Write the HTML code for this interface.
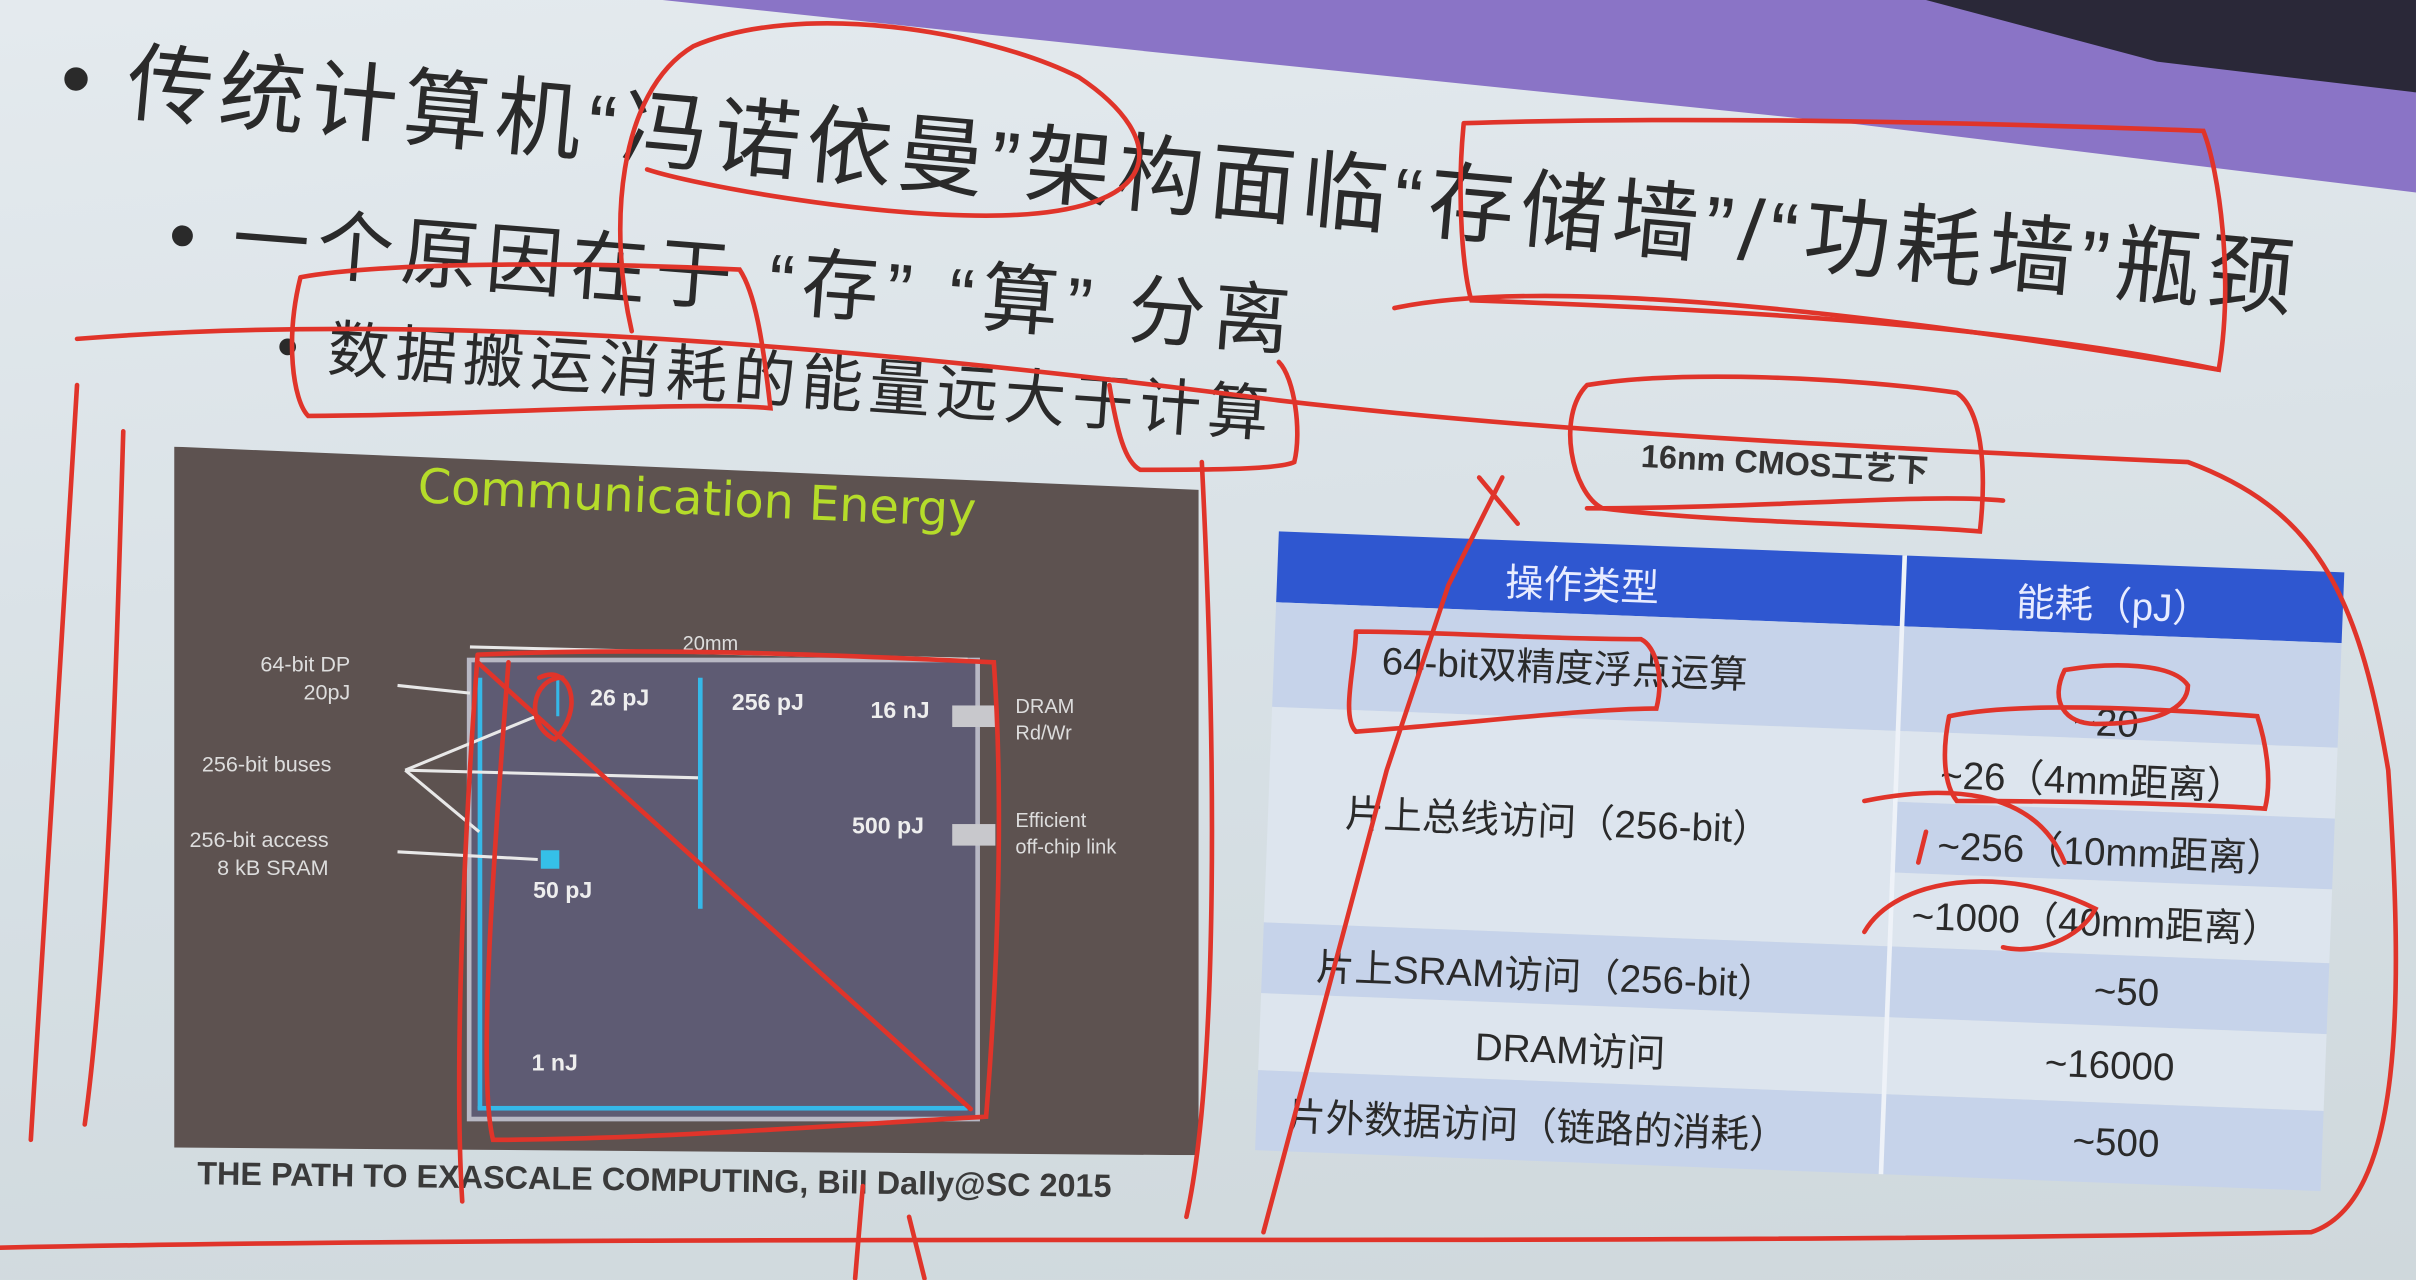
<!DOCTYPE html>
<html><head><meta charset="utf-8"><style>
html,body{margin:0;padding:0;width:2416px;height:1280px;overflow:hidden;background:#d9e1e6}
#w{position:absolute;left:0;top:0;width:1568px;height:831px;transform:scale(1.5408,1.5403);transform-origin:0 0;
background:linear-gradient(175deg,#e4eaee 0%,#d6dfe4 60%,#cfd8dc 100%);overflow:hidden;font-family:"Liberation Sans","Noto Sans CJK SC",sans-serif}
.t{position:absolute;white-space:nowrap;color:#222;font-family:"Liberation Sans","Noto Sans CJK SC",sans-serif}
.s{position:absolute;white-space:nowrap}
</style></head><body><div id="w">
<svg style="position:absolute;left:0;top:0" width="1568" height="831">
<polygon points="430,0 1568,0 1568,125 1200,80 760,35" fill="#8a74c6"/>
<polygon points="1250,0 1568,0 1568,60 1400,40" fill="#2a2838"/>
</svg>
<div class="t" style="left:40px;top:5px;font-size:56px;letter-spacing:4px;transform:rotate(5.2deg);transform-origin:0 50%;color:#2a2a2a">• 传统计算机“冯诺依曼”架构面临“存储墙”/“功耗墙”瓶颈</div>
<div class="t" style="left:110px;top:112px;font-size:50px;letter-spacing:5px;transform:rotate(4.5deg);transform-origin:0 50%;color:#2a2a2a">• 一个原因在于 “存” “算” 分离</div>
<div class="t" style="left:180px;top:192px;font-size:40px;letter-spacing:4px;transform:rotate(4deg);transform-origin:0 50%;color:#2a2a2a">• 数据搬运消耗的能量远大于计算</div>

<div style="position:absolute;left:113px;top:290px;width:665px;height:460px;background:#5d5250;clip-path:polygon(0 0,100% 28px,100% 460px,0 455px)">
 <div class="s" style="left:158px;top:16px;font-size:31px;color:#b5dc2a;font-family:'DejaVu Sans',sans-serif;transform:rotate(2.5deg)">Communication Energy</div>
 <div style="position:absolute;left:190px;top:137px;width:327px;height:295px;background:#5e5b73;border:3px solid #b8b8c4"></div>
 <div style="position:absolute;left:197px;top:150px;width:3px;height:280px;background:#35b8e8"></div>
 <div style="position:absolute;left:197px;top:428px;width:318px;height:3px;background:#35b8e8"></div>
 <div style="position:absolute;left:340px;top:150px;width:3px;height:150px;background:#35b8e8"></div>
 <div style="position:absolute;left:248px;top:150px;width:2px;height:25px;background:#35b8e8"></div>
 <div style="position:absolute;left:238px;top:262px;width:12px;height:12px;background:#35c0e8"></div>
 <div style="position:absolute;left:505px;top:168px;width:28px;height:14px;background:#c8c8cc"></div>
 <div style="position:absolute;left:505px;top:245px;width:28px;height:14px;background:#c8c8cc"></div>
 <svg style="position:absolute;left:0;top:0" width="665" height="460"><g stroke="#e8e8e8" stroke-width="2" fill="none">
  <line x1="145" y1="155" x2="192" y2="160"/><line x1="150" y1="210" x2="235" y2="175"/><line x1="150" y1="210" x2="340" y2="215"/><line x1="150" y1="210" x2="198" y2="250"/><line x1="145" y1="263" x2="236" y2="268"/><line x1="192" y1="130" x2="515" y2="138"/></g></svg>
 <div class="s" style="left:56px;top:132px;font-size:14px;color:#ddd;text-align:right;line-height:18px">64-bit DP<br>&nbsp;&nbsp;&nbsp;&nbsp;&nbsp;&nbsp;20pJ</div>
 <div class="s" style="left:18px;top:198px;font-size:14px;color:#ddd">256-bit buses</div>
 <div class="s" style="left:10px;top:246px;font-size:14px;color:#ddd;line-height:18px;text-align:right">256-bit access<br>8 kB SRAM</div>
 <div class="s" style="left:270px;top:155px;font-size:15px;color:#eee;font-weight:bold">26 pJ</div>
 <div class="s" style="left:362px;top:158px;font-size:15px;color:#eee;font-weight:bold">256 pJ</div>
 <div class="s" style="left:452px;top:163px;font-size:15px;color:#eee;font-weight:bold">16 nJ</div>
 <div class="s" style="left:440px;top:238px;font-size:15px;color:#eee;font-weight:bold">500 pJ</div>
 <div class="s" style="left:233px;top:280px;font-size:15px;color:#eee;font-weight:bold">50 pJ</div>
 <div class="s" style="left:232px;top:392px;font-size:15px;color:#eee;font-weight:bold">1 nJ</div>
 <div class="s" style="left:330px;top:120px;font-size:13px;color:#ddd">20mm</div>
 <div class="s" style="left:546px;top:160px;font-size:13px;color:#ddd;line-height:17px">DRAM<br>Rd/Wr</div>
 <div class="s" style="left:546px;top:234px;font-size:13px;color:#ddd;line-height:17px">Efficient<br>off-chip link</div>
</div>
<div class="t" style="left:128px;top:755px;font-size:21px;font-weight:bold;color:#3a3a3a;transform:rotate(0.8deg)">THE PATH TO EXASCALE COMPUTING, Bill Dally@SC 2015</div>

<div class="t" style="left:1065px;top:285px;font-size:21px;font-weight:bold;color:#333;transform:rotate(3deg)">16nm CMOS工艺下</div>

<div style="position:absolute;left:830px;top:345px;width:692px;height:415px;transform:rotate(2.2deg);transform-origin:0 0;font-size:25px;color:#2a2a2a">
 <div style="position:absolute;left:0;top:0;width:692px;height:46px;background:#2f57d0"></div>
 <div class="s" style="left:148px;top:8px;color:#e8ecff">操作类型</div>
 <div class="s" style="left:480px;top:8px;color:#e8ecff">能耗（pJ）</div>
 <div style="position:absolute;left:0;top:46px;width:692px;height:68px;background:#c6d3ea"></div>
 <div style="position:absolute;left:0;top:114px;width:405px;height:140px;background:#dde5ee"></div>
 <div style="position:absolute;left:405px;top:114px;width:287px;height:46px;background:#dde5ee"></div>
 <div style="position:absolute;left:405px;top:160px;width:287px;height:46px;background:#c6d3ea"></div>
 <div style="position:absolute;left:405px;top:206px;width:287px;height:48px;background:#dde5ee"></div>
 <div style="position:absolute;left:0;top:254px;width:692px;height:46px;background:#c6d3ea"></div>
 <div style="position:absolute;left:0;top:300px;width:692px;height:50px;background:#dde5ee"></div>
 <div style="position:absolute;left:0;top:350px;width:692px;height:52px;background:#c6d3ea"></div>
 <div style="position:absolute;left:405px;top:0;width:3px;height:402px;background:#eef2f8"></div>
 <div class="s" style="left:70px;top:62px">64-bit双精度浮点运算</div>
 <div class="s" style="left:520px;top:90px">~20</div>
 <div class="s" style="left:50px;top:162px">片上总线访问（256-bit）</div>
 <div class="s" style="left:435px;top:122px">~26（4mm距离）</div>
 <div class="s" style="left:435px;top:168px">~256（10mm距离）</div>
 <div class="s" style="left:420px;top:214px">~1000（40mm距离）</div>
 <div class="s" style="left:35px;top:262px">片上SRAM访问（256-bit）</div>
 <div class="s" style="left:540px;top:264px">~50</div>
 <div class="s" style="left:140px;top:310px">DRAM访问</div>
 <div class="s" style="left:510px;top:312px">~16000</div>
 <div class="s" style="left:20px;top:360px">片外数据访问（链路的消耗）</div>
 <div class="s" style="left:530px;top:362px">~500</div>
</div>

<svg style="position:absolute;left:0;top:0" width="1568" height="831"><g stroke="#e0342a" stroke-width="3" fill="none" stroke-linecap="round">
<path d="M410,215 C395,150 400,60 450,30 C520,0 640,20 700,50 C760,90 760,140 640,140 C560,140 450,120 420,110"/>
<path d="M950,80 C945,130 950,180 955,195 C1100,200 1300,210 1440,240 C1450,180 1440,110 1430,85 C1300,80 1100,75 950,80"/>
<path d="M905,200 C1000,180 1200,200 1440,240"/>
<path d="M195,180 C185,220 190,260 200,270 C300,270 450,260 500,265 C495,220 490,190 480,175 C380,170 250,170 195,180"/>
<path d="M50,220 C300,200 600,230 830,260 C1000,280 1200,290 1420,300 C1500,330 1530,380 1550,500 C1560,650 1560,780 1500,800 C1000,810 500,800 0,810"/>
<path d="M50,250 C40,400 30,600 20,740"/>
<path d="M80,280 C75,450 70,620 55,730"/>
<path d="M1030,250 C1010,270 1020,320 1040,330 C1120,340 1230,340 1285,345 C1290,300 1285,265 1270,255 C1200,245 1090,240 1030,250"/>
<path d="M1030,330 C1150,330 1250,320 1300,325"/>
<path d="M310,425 C300,560 295,700 300,780 M330,430 C320,560 310,700 320,740 C420,740 550,730 640,725 C650,600 650,500 645,430 C540,425 420,420 310,425"/>
<path d="M310,430 L630,720 M350,440 C370,430 380,460 360,480 C340,470 345,440 365,440"/>
<path d="M975,310 L940,380 L900,500 L860,650 L820,800 M960,310 L985,340"/>
<path d="M880,410 C880,430 870,465 880,475 C950,470 1030,460 1075,460 C1080,440 1075,420 1065,415 C1000,415 930,410 880,410"/>
<path d="M1340,435 C1330,455 1340,470 1360,470 C1400,470 1420,460 1420,445 C1410,430 1370,430 1340,435"/>
<path d="M1265,465 C1260,490 1262,510 1270,520 C1340,520 1430,522 1470,525 C1475,505 1470,480 1465,465 C1400,460 1310,455 1265,465"/>
<path d="M1210,520 C1260,510 1320,510 1340,560 M1250,540 L1245,560"/>
<path d="M1210,605 C1230,570 1300,560 1360,590 C1350,610 1320,620 1300,615"/>
<path d="M720,250 C725,280 730,300 740,305 C780,305 830,305 840,300 C845,280 840,245 830,235"/>
<path d="M780,300 C790,500 790,700 770,790 M560,770 L555,830 M590,790 L600,830"/>
</g></svg>
</div></body></html>
